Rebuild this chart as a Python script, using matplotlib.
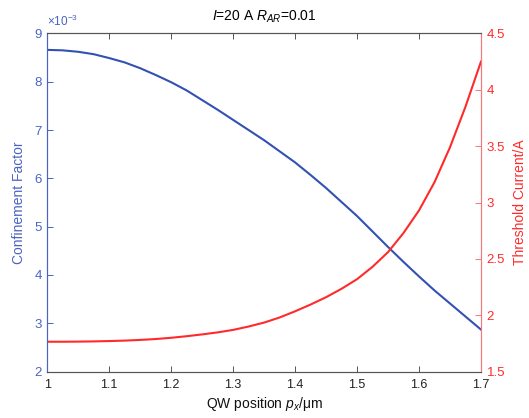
import numpy as np
import matplotlib
matplotlib.use('Agg')
import matplotlib.pyplot as plt

plt.rcParams['font.family'] = ['Liberation Sans', 'DejaVu Sans']
plt.rcParams['mathtext.fontset'] = 'custom'
plt.rcParams['mathtext.rm'] = 'Liberation Sans'
plt.rcParams['mathtext.it'] = 'Liberation Sans:italic'

# ── Data ──────────────────────────────────────────────────────────────────────
pos = [1.000, 1.025, 1.050, 1.075, 1.100, 1.125, 1.150, 1.175, 1.200, 1.225,
       1.250, 1.275, 1.300, 1.325, 1.350, 1.375, 1.400, 1.425, 1.450, 1.475,
       1.500, 1.525, 1.550, 1.575, 1.600, 1.625, 1.650, 1.675, 1.700]
conf = [8.66, 8.65, 8.62, 8.57, 8.49, 8.40, 8.28, 8.14, 7.99, 7.82,
        7.62, 7.42, 7.21, 7.00, 6.79, 6.56, 6.33, 6.07, 5.80, 5.51,
        5.22, 4.90, 4.58, 4.27, 3.97, 3.68, 3.41, 3.14, 2.87]      # x1e-3
ith = [1.765, 1.765, 1.766, 1.768, 1.771, 1.775, 1.781, 1.789, 1.800, 1.814,
       1.830, 1.848, 1.870, 1.900, 1.935, 1.980, 2.035, 2.095, 2.160, 2.235,
       2.320, 2.430, 2.560, 2.730, 2.930, 3.180, 3.490, 3.850, 4.250]  # A

xticks = [1, 1.1, 1.2, 1.3, 1.4, 1.5, 1.6, 1.7]
xticklabels = ['1', '1.1', '1.2', '1.3', '1.4', '1.5', '1.6', '1.7']
lticks = [2, 3, 4, 5, 6, 7, 8, 9]
rticks = [1.5, 2, 2.5, 3, 3.5, 4, 4.5]
rticklabels = ['1.5', '2', '2.5', '3', '3.5', '4', '4.5']

BLUE = '#3251b3'
BLUE_AX = '#4a63c4'
RED = '#ff2a2a'
RED_AX = '#f27a7a'
GREY = '#555555'

fig = plt.figure(figsize=(5.29, 4.18), dpi=100)
ax = fig.add_axes([0.0894, 0.111, 0.8198, 0.809])
ax2 = ax.twinx()

ax.plot(pos, conf, color=BLUE, lw=1.5)
ax2.plot(pos, ith, color=RED, lw=1.5)

ax.set_xlim(1, 1.7)
ax.set_ylim(2, 9)
ax2.set_ylim(1.5, 4.5)

ax.set_xticks(xticks)
ax.set_xticklabels(xticklabels)
ax.set_yticks(lticks)
ax2.set_yticks(rticks)
ax2.set_yticklabels(rticklabels)

ax.tick_params(axis='x', direction='in', top=True, length=4, width=0.7,
               color=GREY, labelsize=9, labelcolor='#222222', pad=5)
ax.tick_params(axis='y', direction='in', length=4, width=0.7,
               color=BLUE_AX, labelcolor=BLUE_AX, labelsize=9.5, pad=4)
ax2.tick_params(axis='y', direction='in', length=4, width=0.7,
                color=RED_AX, labelcolor=RED, labelsize=9.5, pad=4)

for a in (ax, ax2):
    a.spines['top'].set_color(GREY)
    a.spines['bottom'].set_color(GREY)
    a.spines['left'].set_color(BLUE_AX)
    a.spines['right'].set_color(RED_AX)
    for s in a.spines.values():
        s.set_linewidth(0.8)

ax.set_ylabel('Confinement Factor', color=BLUE_AX, fontsize=10, labelpad=6)
ax2.set_ylabel('Threshold Current/A', color=RED, fontsize=10, labelpad=6)
ax.set_xlabel(r'QW position $p_x$/μm', fontsize=10, color='#111111', labelpad=3)
ax.set_title(r'$I$=20 A $R_{AR}$=0.01', fontsize=10, pad=9)
ax.text(0.0, 1.012, r'$\times10^{-3}$', transform=ax.transAxes,
        color=BLUE_AX, fontsize=8.5, ha='left', va='bottom')

fig.savefig('out.png', dpi=100)
